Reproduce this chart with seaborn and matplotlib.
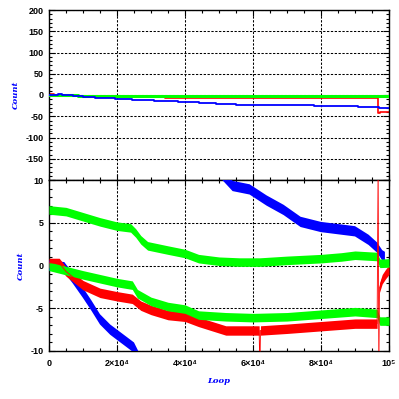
import numpy as np
import matplotlib
matplotlib.use("Agg")
import matplotlib.pyplot as plt
from matplotlib.ticker import MultipleLocator
import seaborn as sns

# %%
# top panel: running count (step lines)
top_blue_x = [0, 2700, 3800, 7000, 10000, 13500, 19400, 24400, 31000, 38000, 44000,
              49000, 55000, 62000, 66000, 78000, 91000, 97000, 100000]
top_blue_y = [0, 2.4, 0, -2.4, -4.7, -7, -9.4, -11.8, -14, -16.5, -18.8,
              -21, -22.7, -24.3, -24, -26, -29, -31, -31]
top_red_x = [0, 1500, 8000, 10600, 34000, 41000, 73000, 96900, 97300, 100000]
top_red_y = [2, -1, -3, -5, -8, -6, -7, -43, -39, -39]
top_green_x = [0, 8500, 100000]
top_green_y = [0, -3, -3]

# bottom panel: zoomed counts (noisy bands: centre + spread)
gu_x = [0, 5000, 10000, 15000, 20000, 24000, 25500, 27000, 29000, 35000, 40000, 44000,
        50000, 56000, 62000, 70000, 80000, 86000, 90000, 96500, 97300, 100000]
gu_y = [6.5, 6.3, 5.7, 5.1, 4.6, 4.4, 3.8, 3.0, 2.3, 1.8, 1.4, 0.8,
        0.5, 0.4, 0.4, 0.6, 0.8, 1.0, 1.2, 1.05, 0.25, 0.3]
gu_spread = 0.5

gl_x = [0, 10000, 20000, 24500, 26000, 30000, 35000, 40000, 44000, 52000, 60000,
        70000, 80000, 90000, 96500, 97300, 100000]
gl_y = [-0.1, -1.1, -2.0, -2.3, -3.3, -4.2, -4.8, -5.1, -5.8, -6.0, -6.1,
        -6.0, -5.7, -5.4, -5.6, -6.5, -6.5]
gl_spread = 0.5

red_x = [0, 3000, 5000, 10000, 15000, 20000, 24500, 27000, 30000, 35000, 40000, 44000,
         52000, 60000, 61800, 62000, 62200, 70000, 80000, 90000, 96500, 96800, 97000,
         97200, 98000, 99000, 100000]
red_y = [0.3, 0.3, -0.7, -2.3, -3.2, -3.6, -3.9, -4.7, -5.2, -5.8, -6.0, -6.6,
         -7.6, -7.6, -7.6, -12, -7.6, -7.4, -7.1, -6.8, -6.8, 12, -12,
         -2.6, -1.6, -1.0, -0.5]
red_spread = 0.55

blue_x = [0, 4500, 7000, 10000, 12500, 15000, 18000, 21000, 25000, 26500, 38000,
          50500, 54000, 59000, 64000, 69000, 74000, 80000, 86000, 90000, 94000,
          96500, 98000, 98800]
blue_y = [0, -0.2, -1.5, -3.2, -4.7, -6.3, -7.5, -8.4, -9.6, -10.8, np.nan,
          10.8, 9.3, 8.9, 7.6, 6.5, 5.1, 4.5, 4.2, 4.0, 3.0,
          2.1, 1.2, 1.0]
blue_spread = 0.6

x_ticks = [0, 20000, 40000, 60000, 80000, 100000]
x_tick_labels = ["0", "2×10⁴", "4×10⁴", "6×10⁴", "8×10⁴", "10⁵"]
top_y_ticks = [-200, -150, -100, -50, 0, 50, 100, 150, 200]
top_y_labels = ["", "-150", "-100", "-50", "0", "50", "100", "150", "200"]
bot_y_ticks = [-10, -5, 0, 5, 10]
bot_y_labels = ["-10", "-5", "0", "5", "10"]

RED, GREEN, BLUE = "#ff0000", "#00ff00", "#0000ff"

# %%
sns.set_style("ticks")
plt.rcParams["font.family"] = ["Liberation Sans", "DejaVu Sans"]
plt.rcParams["font.weight"] = "bold"

fig = plt.figure(figsize=(3.99, 3.99), dpi=100)
ax1 = fig.add_axes([49 / 399, 1 - 180 / 399, 340 / 399, 170 / 399])
ax2 = fig.add_axes([49 / 399, 1 - 351 / 399, 340 / 399, 171 / 399])

grid_style = dict(color="black", linestyle=(0, (2.2, 1.5)), linewidth=0.75)
label_style = dict(color=BLUE, fontsize=6, fontweight="bold", fontstyle="italic",
                   family="DejaVu Serif")

for ax in (ax1, ax2):
    ax.set_xlim(0, 100000)
    ax.set_xticks(x_ticks)
    ax.xaxis.set_minor_locator(MultipleLocator(5000))
    ax.grid(True, which="major", **grid_style)
    ax.set_axisbelow(True)
    ax.tick_params(which="both", direction="in", top=True, right=True,
                   width=0.8, labelsize=6.5, colors="black")
    ax.tick_params(which="major", length=4, pad=4)
    ax.tick_params(which="minor", length=2.5)
    for s in ax.spines.values():
        s.set_linewidth(1.0)
        s.set_color("black")
        s.set_visible(True)

# top panel
sns.lineplot(x=top_green_x, y=top_green_y, ax=ax1, color=GREEN, linewidth=2.2,
             drawstyle="steps-post", estimator=None, sort=False, zorder=3)
sns.lineplot(x=top_red_x, y=top_red_y, ax=ax1, color=RED, linewidth=1.2,
             drawstyle="steps-post", estimator=None, sort=False, zorder=2)
sns.lineplot(x=top_blue_x, y=top_blue_y, ax=ax1, color=BLUE, linewidth=1.3,
             drawstyle="steps-post", estimator=None, sort=False, zorder=4)
ax1.set_ylim(-200, 200)
ax1.set_yticks(top_y_ticks)
ax1.set_yticklabels(top_y_labels)
ax1.yaxis.set_minor_locator(MultipleLocator(10))
ax1.set_xticklabels([])
ax1.set_xlabel("")
ax1.set_ylabel("Count", labelpad=4, **label_style)

# bottom panel
bands = [(blue_x, blue_y, blue_spread, BLUE),
         (red_x, red_y, red_spread, RED),
         (gu_x, gu_y, gu_spread, GREEN),
         (gl_x, gl_y, gl_spread, GREEN)]
for bx, by, spread, col in bands:
    by = np.asarray(by, dtype=float)
    ax2.fill_between(bx, by - spread, by + spread, color=col, linewidth=0,
                     zorder=3)
# thin vertical red glitches need a visible stroke
ax2.plot(red_x, red_y, color=RED, linewidth=0.6, zorder=3)
ax2.set_ylim(-10, 10)
ax2.set_yticks(bot_y_ticks)
ax2.set_yticklabels(bot_y_labels)
ax2.yaxis.set_minor_locator(MultipleLocator(1))
ax2.set_xticklabels(x_tick_labels)
ax2.tick_params(axis="x", pad=6)
ax2.set_xlabel("Loop", labelpad=6, **label_style)
ax2.set_ylabel("Count", labelpad=4, **label_style)
# line up both y labels at the same x
fig.align_ylabels([ax1, ax2])

plt.savefig("out.png", dpi=100)
